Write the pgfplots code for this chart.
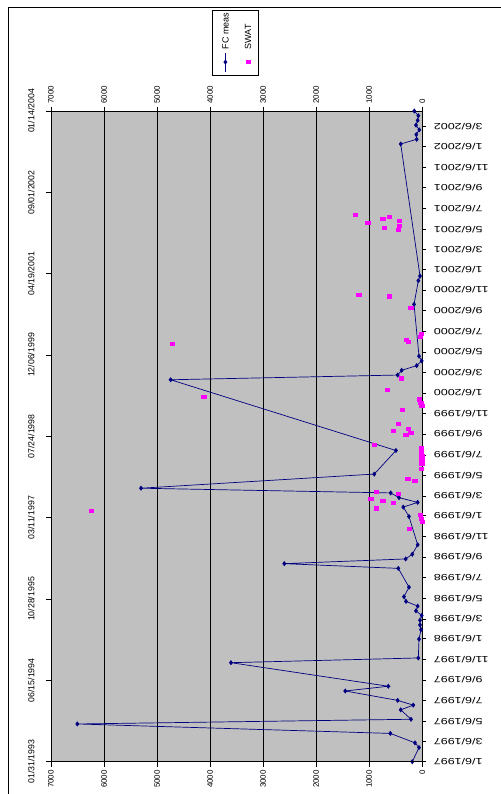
\documentclass[border=0pt]{standalone}
\usepackage{pgfplots}
\pgfplotsset{compat=1.18}
\usepackage{fontspec}
\setmainfont{Liberation Sans}
\definecolor{plotgray}{HTML}{C0C0C0}
\definecolor{fcblue}{HTML}{000080}
\definecolor{swatmag}{HTML}{FF00FF}
\newcommand{\R}[1]{\scalebox{1.4}[1]{#1}}
\begin{document}
\begin{tikzpicture}
\pgfplotsset{
  /pgf/number format/assume math mode=true,
  /pgf/number format/1000 sep={},
}
\begin{axis}[
  at={(51bp,32.3bp)}, anchor=south west,
  width=371.3bp, height=650.7bp, scale only axis,
  x dir=reverse, xmin=0, xmax=7000,
  ymin=0, ymax=1932,
  scaled ticks=false,
  axis background/.style={fill=plotgray},
  axis line style={black, line width=0.8bp},
  xtick={0,1000,...,7000},
  xtick pos=right, xticklabel pos=right,
  xmajorgrids, major grid style={black, line width=0.7bp},
  xticklabel style={rotate=90, anchor=west, font=\fontsize{8}{9}\selectfont},
  ytick={0,59,120,181,243,304,365,424,485,546,608,669,730,789,850,911,973,1034,1095,1155,1216,1277,1339,1400,1461,1520,1581,1642,1704,1765,1826,1885},
  yticklabels={\R{1/6/1997},\R{3/6/1997},\R{5/6/1997},\R{7/6/1997},\R{9/6/1997},\R{11/6/1997},
    \R{1/6/1998},\R{3/6/1998},\R{5/6/1998},\R{7/6/1998},\R{9/6/1998},\R{11/6/1998},
    \R{1/6/1999},\R{3/6/1999},\R{5/6/1999},\R{7/6/1999},\R{9/6/1999},\R{11/6/1999},
    \R{1/6/2000},\R{3/6/2000},\R{5/6/2000},\R{7/6/2000},\R{9/6/2000},\R{11/6/2000},
    \R{1/6/2001},\R{3/6/2001},\R{5/6/2001},\R{7/6/2001},\R{9/6/2001},\R{11/6/2001},
    \R{1/6/2002},\R{3/6/2002}},
  ytick pos=right, yticklabel pos=right,
  yticklabel style={rotate=180, anchor=east, font=\fontsize{9}{10}\selectfont},
  yticklabel shift=4bp,
  tick align=outside, major tick length=4bp,
  tick style={black, line width=0.7bp},
  legend columns=2,
  legend style={at={(axis description cs:0.4969,1.1053)}, anchor=center,
    draw=black, fill=white, line width=0.6bp, inner xsep=0.5bp, inner ysep=3bp,
    nodes={inner sep=0pt, text depth=0pt}, column sep=0pt},
]
\addplot[fcblue, line width=0.7bp, mark=diamond*, mark size=2bp, mark options={solid},
  legend image code/.code={
    \draw[fcblue, line width=0.7bp, mark=diamond*, mark size=2bp, mark repeat=2, mark phase=2]
      plot coordinates {(0bp,0bp) (0bp,9.5bp) (0bp,19bp)};
    \node[rotate=90, anchor=west, inner sep=0pt, text=black, font=\fontsize{9}{10}\selectfont]
      at (0bp,22bp) {FC meas};
    \path (-12.2bp,0bp) (8.8bp,0bp);
  }]
coordinates {
(189,0) (62,42) (138,56) (603,84) (6504,112) (213,126) (407,154) (170,168)
(464,182) (1452,210) (641,224) (3607,294) (75,308) (62,364) (25,392) (43,406)
(43,420) (11,434) (119,448) (87,462) (307,476) (345,490) (251,518) (452,574)
(2602,588) (313,602) (189,616) (87,644) (251,728) (358,756) (87,770) (439,784)
(596,798) (5303,812) (905,854) (496,924) (4744,1134) (464,1148) (389,1162)
(106,1176) (11,1190) (62,1204) (156,1358) (75,1428) (43,1442) (407,1834)
(106,1848) (113,1862) (57,1876) (119,1890) (87,1904) (75,1918) (151,1932)
};
\addlegendentry{}
\addlegendimage{only marks, mark=square*, swatmag,
  legend image code/.code={
    \draw[swatmag, only marks, mark=square*, mark size=1.6bp, mark options={xscale=1.3}]
      plot coordinates {(0bp,9.5bp)};
    \node[rotate=90, anchor=west, inner sep=0pt, text=black, font=\fontsize{9}{10}\selectfont]
      at (0bp,22bp) {SWAT};
    \path (-12.2bp,0bp) (8.8bp,0bp);
  }}
\addlegendentry{}
\end{axis}
\begin{axis}[
  at={(51bp,32.3bp)}, anchor=south west,
  width=371.3bp, height=650.7bp, scale only axis,
  x dir=reverse, xmin=0, xmax=7000,
  ymin=34000, ymax=38000,
  scaled ticks=false,
  axis x line*=bottom, axis y line*=left,
  axis line style={black, line width=0.8bp},
  xtick={0,1000,...,7000},
  xticklabel style={rotate=90, anchor=east, font=\fontsize{8}{9}\selectfont},
  ytick={34000,34500,35000,35500,36000,36500,37000,37500,38000},
  yticklabels={01/31/1993,06/15/1994,10/28/1995,03/11/1997,07/24/1998,12/06/1999,04/19/2001,09/01/2002,01/14/2004},
  yticklabel style={rotate=90, anchor=south, font=\fontsize{8.8}{9}\selectfont},
  yticklabel shift=8bp,
  tick align=outside, major tick length=5bp,
  tick style={black, line width=0.7bp},
]
\addplot[only marks, mark=square*, swatmag, mark size=1.6bp, mark options={xscale=1.3}]
coordinates {
(1263,37362) (1030,37311) (747,37336) (628,37350) (722,37283) (439,37324) (434,37295) (452,37268)
(1199,36873) (628,36861) (219,36791) (25,36633) (43,36613) (307,36592) (264,36580) (4719,36568)
(402,36357) (666,36287) (4122,36244) (57,36228) (30,36207) (11,36188) (377,36162)
(452,36078) (264,36049) (547,36035) (219,36022) (313,36008) (911,35951)
(20,35927) (15,35904) (10,35879) (10,35855) (12,35830) (25,35799)
(276,35742) (144,35727) (873,35660) (452,35647) (973,35615) (747,35603) (547,35590)
(6241,35545) (873,35558) (43,35517) (25,35492) (3,35475) (245,35432)
};
\end{axis}
\draw[black, line width=0.8bp] (8bp,-2bp) -- (8bp,787bp) -- (503bp,787bp);
\pgfresetboundingbox
\path (0,0) rectangle (501bp,794bp);
\end{tikzpicture}
\end{document}
